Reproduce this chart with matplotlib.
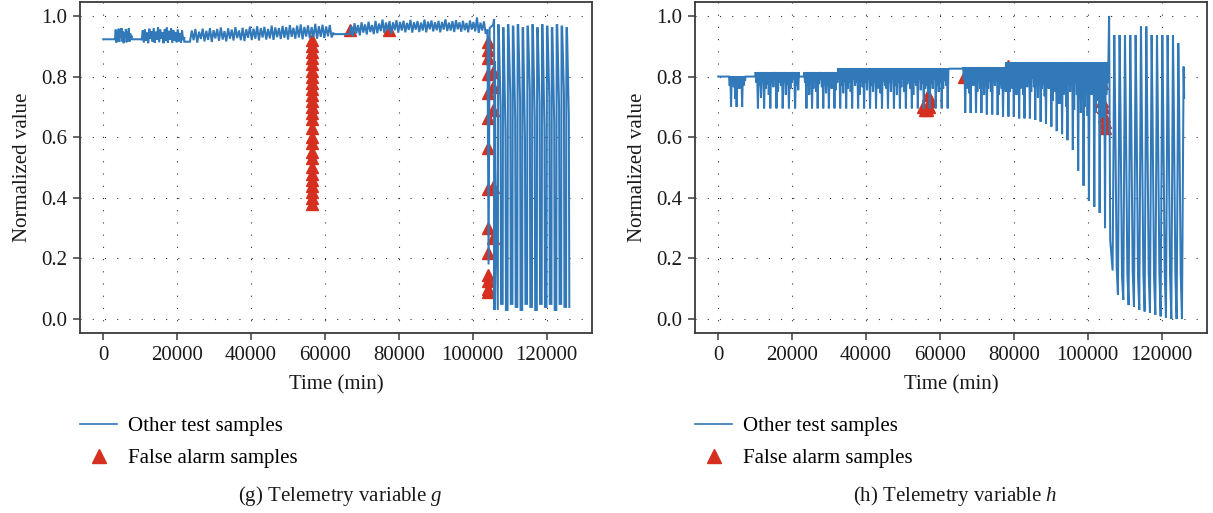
import numpy as np
import matplotlib
matplotlib.use("Agg")
import matplotlib.pyplot as plt
from matplotlib.lines import Line2D
from matplotlib.ticker import FuncFormatter

plt.rcParams['font.family'] = ['Liberation Serif', 'DejaVu Serif']
plt.rcParams['font.size'] = 15
plt.rcParams['mathtext.fontset'] = 'custom'
plt.rcParams['mathtext.rm'] = 'Liberation Serif'
plt.rcParams['mathtext.it'] = 'Liberation Serif:italic'

BLUE = '#3179b9'
RED = '#d5301f'

# ---------------- Telemetry variable g ----------------
# flat stretches: start, end, value
g_flat_t0 = [0, 7680, 21930, 62300]
g_flat_t1 = [3170, 10390, 23470, 66600]
g_flat_v = [0.923, 0.923, 0.915, 0.94]
# noisy stretches (between flats)
g_seg_t0 = [3170, 10390, 23470, 66600]
g_seg_t1 = [7680, 21930, 62300, 104000]
g_seg1 = [0.925, 0.955, 0.912, 0.948, 0.92, 0.958, 0.914, 0.944, 0.93, 0.96, 0.916, 0.95,
          0.91, 0.946, 0.928, 0.957, 0.913, 0.949, 0.922, 0.959, 0.915, 0.943, 0.926, 0.935]
g_seg2 = [0.92, 0.952, 0.912, 0.956, 0.918, 0.945, 0.91, 0.958, 0.924, 0.95,
          0.915, 0.96, 0.911, 0.948, 0.921, 0.962, 0.913, 0.955, 0.925, 0.946,
          0.91, 0.957, 0.917, 0.963, 0.912, 0.951, 0.922, 0.959, 0.911, 0.953,
          0.919, 0.947, 0.913, 0.956, 0.916, 0.944, 0.912, 0.952, 0.92, 0.93]
g_seg3 = [0.915, 0.952, 0.92, 0.957, 0.912, 0.948, 0.924, 0.958, 0.916, 0.951,
          0.921, 0.96, 0.914, 0.953, 0.926, 0.957, 0.918, 0.962, 0.922, 0.95,
          0.916, 0.959, 0.925, 0.955, 0.919, 0.963, 0.927, 0.952, 0.92, 0.961,
          0.917, 0.956, 0.928, 0.965, 0.921, 0.958, 0.925, 0.966, 0.919, 0.96,
          0.929, 0.964, 0.922, 0.957, 0.926, 0.968, 0.921, 0.962, 0.93, 0.96,
          0.924, 0.967, 0.928, 0.963, 0.922, 0.97, 0.931, 0.961, 0.925, 0.968,
          0.929, 0.972, 0.923, 0.964, 0.932, 0.969, 0.926, 0.963, 0.93, 0.974,
          0.925, 0.966, 0.931, 0.971, 0.927, 0.965, 0.933, 0.97, 0.929, 0.945]
g_seg4 = [0.938, 0.968, 0.933, 0.976, 0.942, 0.97, 0.936, 0.979, 0.945, 0.972,
          0.939, 0.981, 0.947, 0.97, 0.94, 0.984, 0.943, 0.975, 0.95, 0.988,
          0.944, 0.978, 0.951, 0.983, 0.941, 0.979, 0.953, 0.986, 0.945, 0.98,
          0.952, 0.984, 0.946, 0.977, 0.954, 0.987, 0.945, 0.979, 0.955, 0.983,
          0.947, 0.978, 0.952, 0.988, 0.946, 0.981, 0.956, 0.985, 0.949, 0.979,
          0.953, 0.984, 0.946, 0.98, 0.955, 0.989, 0.95, 0.978, 0.952, 0.983,
          0.947, 0.986, 0.956, 0.979, 0.948, 0.984, 0.953, 0.977, 0.946, 0.985,
          0.955, 0.98, 0.949, 0.995, 0.944, 0.978, 0.952, 0.982, 0.941, 0.955]
# transition before the oscillation
g_tail_t = [104300, 104600, 105500, 105800, 105900, 106050, 106150]
g_tail_v = [0.18, 0.96, 0.97, 0.99, 0.03, 0.85, 0.50]
# oscillating part
g_osc_t = [106900, 108220, 109540, 110860, 112180, 113500, 114820, 116140,
           117460, 118780, 120100, 121420, 122740, 124060, 125380]
g_osc_top = [0.97, 0.96, 0.97, 0.965, 0.97, 0.96, 0.965, 0.97, 0.96, 0.97,
             0.965, 0.96, 0.97, 0.965, 0.96]
g_osc_mid = [0.70, 0.62, 0.74, 0.66, 0.72, 0.60, 0.75, 0.67, 0.71, 0.63,
             0.73, 0.65, 0.70, 0.74, 0.67]
g_osc_bot = [0.03, 0.05, 0.03, 0.05, 0.04, 0.03, 0.05, 0.04, 0.03, 0.05,
             0.04, 0.05, 0.03, 0.05, 0.04, 0.04]
# false alarm samples
g_fa_t = [56600] * 26 + [104200] * 14 + [105400] * 5 + [66900, 77300]
g_fa_v = [0.38, 0.40, 0.42, 0.44, 0.46, 0.48, 0.50, 0.53, 0.55, 0.58, 0.60, 0.63, 0.66,
          0.68, 0.70, 0.72, 0.74, 0.76, 0.78, 0.80, 0.82, 0.84, 0.86, 0.88, 0.90, 0.92,
          0.915, 0.888, 0.86, 0.807, 0.745, 0.662, 0.563, 0.429, 0.299, 0.217, 0.145,
          0.125, 0.10, 0.09,
          0.816, 0.767, 0.69, 0.437, 0.266,
          0.952, 0.955]

# ---------------- Telemetry variable h ----------------
h_flat_t0 = [0, 7400, 21850, 62300]
h_flat_t1 = [2900, 10100, 23300, 66300]
h_flat_v = [0.80, 0.80, 0.80, 0.826]
# spiky stretches: start, end, band top
h_seg_t0 = [2900, 10100, 23300, 32400, 66300, 78000]
h_seg_t1 = [7400, 21850, 32400, 62300, 78000, 105600]
h_seg_top = [0.80, 0.815, 0.815, 0.828, 0.83, 0.848]
h_segA = [0.77, 0.70, 0.78, 0.765, 0.726, 0.70, 0.775, 0.76, 0.78, 0.70, 0.77, 0.785]
h_segB = [0.78, 0.695, 0.77, 0.73, 0.785, 0.695, 0.76, 0.775, 0.74, 0.695, 0.78, 0.765,
          0.79, 0.695, 0.75, 0.78, 0.77, 0.695, 0.785, 0.74, 0.775, 0.695, 0.76, 0.78,
          0.79, 0.695, 0.77, 0.755]
h_segC1 = [0.78, 0.695, 0.77, 0.74, 0.785, 0.695, 0.76, 0.78, 0.75, 0.695, 0.775, 0.79,
           0.765, 0.695, 0.78, 0.745, 0.77, 0.695, 0.785, 0.76, 0.775, 0.695, 0.755, 0.78]
h_segC2 = [0.79, 0.695, 0.77, 0.745, 0.785, 0.695, 0.76, 0.78, 0.75, 0.695, 0.79, 0.77,
           0.78, 0.695, 0.74, 0.785, 0.765, 0.695, 0.78, 0.755, 0.79, 0.695, 0.77, 0.75,
           0.78, 0.695, 0.76, 0.79, 0.745, 0.695, 0.785, 0.77, 0.76, 0.695, 0.78, 0.75,
           0.79, 0.695, 0.77, 0.74, 0.78, 0.695, 0.765, 0.79, 0.75, 0.695, 0.775, 0.785,
           0.76, 0.695, 0.74, 0.78, 0.77, 0.695, 0.79, 0.755, 0.78, 0.695, 0.76, 0.77,
           0.745, 0.695, 0.785, 0.76, 0.79, 0.695, 0.77, 0.75, 0.78, 0.695, 0.76, 0.785,
           0.77, 0.695]
h_segD1 = [0.79, 0.68, 0.76, 0.78, 0.745, 0.68, 0.79, 0.77, 0.78, 0.68, 0.75, 0.785,
           0.76, 0.68, 0.79, 0.74, 0.775, 0.675, 0.76, 0.785, 0.75, 0.675, 0.78, 0.77,
           0.79, 0.673, 0.74, 0.775, 0.76, 0.668, 0.785, 0.75]
h_segD2 = [0.78, 0.668, 0.75, 0.795, 0.76, 0.668, 0.79, 0.74, 0.785, 0.662, 0.76, 0.775,
           0.74, 0.662, 0.79, 0.765, 0.78, 0.662, 0.75, 0.795, 0.765, 0.657, 0.785, 0.73,
           0.79, 0.651, 0.76, 0.775, 0.735, 0.645, 0.79, 0.76, 0.775, 0.635, 0.72, 0.785,
           0.75, 0.62, 0.78, 0.71, 0.79, 0.61, 0.74, 0.765, 0.70, 0.59, 0.785, 0.75,
           0.77, 0.558, 0.69, 0.78, 0.74, 0.49, 0.79, 0.68, 0.765, 0.44, 0.70, 0.785,
           0.67, 0.39, 0.77, 0.74, 0.785, 0.37, 0.68, 0.76, 0.72, 0.35, 0.79, 0.665,
           0.77, 0.30, 0.74, 0.78]
h_tail_t = [105800, 106100]
h_tail_v = [1.0, 0.26]
h_osc_t = [107200, 108640, 110090, 111530, 112980, 114420, 115870, 117310,
           118760, 120200, 121640, 123090, 124530, 125970]
h_osc_top = [0.937, 0.937, 0.937, 0.937, 0.937, 0.965, 0.965, 0.937, 0.937, 0.937,
             0.937, 0.937, 0.91, 0.833]
h_osc_deep = [0.16, 0.08, 0.063, 0.046, 0.04, 0.03, 0.025, 0.02, 0.014, 0.009,
              0.004, 0.0, 0.0, 0.0]
h_osc_mid = [0.68, 0.68, 0.67, 0.68, 0.68, 0.675, 0.68, 0.68, 0.67, 0.68, 0.68, 0.675, 0.68]
h_osc_low = [0.17, 0.14, 0.15, 0.16, 0.14, 0.15, 0.15, 0.14, 0.15, 0.16, 0.15, 0.14, 0.15]
h_end_v = 0.73
h_fa_t = [55500, 56000, 56500, 57000, 57400, 56800, 56300, 66600, 78300,
          103600, 103800, 104000, 104200, 104400, 104600, 104800]
h_fa_v = [0.70, 0.69, 0.69, 0.70, 0.72, 0.74, 0.80, 0.80, 0.835,
          0.80, 0.78, 0.72, 0.70, 0.67, 0.65, 0.63]

x_ticks = [0, 20000, 40000, 60000, 80000, 100000, 120000]
y_ticks = [0.0, 0.2, 0.4, 0.6, 0.8, 1.0]


def spikes(t0, t1, top, depths):
    xs = np.linspace(t0, t1, 2 * len(depths) + 1)
    ys = [top]
    for d in depths:
        ys += [d, top]
    return list(xs), ys


# assemble g
gx, gy = [], []
g_segs = [g_seg1, g_seg2, g_seg3, g_seg4]
for i in range(4):
    gx += [g_flat_t0[i], g_flat_t1[i]]
    gy += [g_flat_v[i], g_flat_v[i]]
    gx += list(np.linspace(g_seg_t0[i], g_seg_t1[i], len(g_segs[i])))
    gy += list(g_segs[i])
gx += g_tail_t
gy += g_tail_v
for i, t in enumerate(g_osc_t):
    gx += [t - 100, t, t + 150, t + 650, t + 780]
    gy += [g_osc_bot[i], g_osc_top[i], g_osc_top[i], g_osc_mid[i], g_osc_bot[i + 1]]

# assemble h
hx, hy = [], []
h_segs = [h_segA, h_segB, h_segC1, h_segC2, h_segD1, h_segD2]
flat_before = {0: 0, 1: 1, 2: 2, 4: 3}
for i in range(6):
    if i in flat_before:
        k = flat_before[i]
        hx += [h_flat_t0[k], h_flat_t1[k]]
        hy += [h_flat_v[k], h_flat_v[k]]
    xs, ys = spikes(h_seg_t0[i], h_seg_t1[i], h_seg_top[i], h_segs[i])
    hx += xs
    hy += ys
hx += h_tail_t
hy += h_tail_v
for i, t in enumerate(h_osc_t):
    hx += [t - 450, t]
    hy += [h_osc_deep[i], h_osc_top[i]]
    if i < len(h_osc_mid):
        hx += [t + 250, t + 650]
        hy += [h_osc_mid[i], h_osc_low[i]]
hx.append(h_osc_t[-1] + 150)
hy.append(h_end_v)

W, H = 1213, 513
fig = plt.figure(figsize=(W / 100, H / 100), dpi=100)


def rect(l, t, r, b):
    return [l / W, 1 - b / H, (r - l) / W, (b - t) / H]


ax1 = fig.add_axes(rect(80, 2, 592, 333))
ax2 = fig.add_axes(rect(695, 2, 1207, 333))

for ax, (x, y, fx, fy, cap, cx) in zip(
        [ax1, ax2],
        [(gx, gy, g_fa_t, g_fa_v, '(g) Telemetry variable $g$', 340),
         (hx, hy, h_fa_t, h_fa_v, '(h) Telemetry variable $h$', 955)]):
    ax.plot(fx, fy, ls='none', marker='^', ms=8, color=RED, mec=RED, zorder=2)
    ax.plot(x, y, color=BLUE, lw=1.45, zorder=3, solid_joinstyle='miter')
    ax.set_xlim(-6300, 132300)
    ax.set_ylim(-0.046, 1.046)
    ax.set_xticks(x_ticks)
    ax.set_yticks(y_ticks)
    ax.xaxis.set_major_formatter(FuncFormatter(lambda v, p: f'{int(round(v))}'))
    ax.yaxis.set_major_formatter(FuncFormatter(lambda v, p: f'{v:.1f}'))
    ax.grid(True, color='#333333', linestyle=(0, (1, 10)), linewidth=0.8)
    ax.set_axisbelow(True)
    for s in ax.spines.values():
        s.set_color('#3a3a3a')
        s.set_linewidth(1.3)
    ax.tick_params(direction='out', length=5, width=1.1, color='#3a3a3a',
                   labelcolor='#1a1a1a', labelsize=15, pad=4)
    ax.set_xlabel('Time (min)', fontsize=15, color='#1a1a1a', labelpad=8)
    ax.set_ylabel('Normalized value', fontsize=15, color='#1a1a1a', labelpad=7)
    handles = [Line2D([], [], color=BLUE, lw=1.2),
               Line2D([], [], ls='none', marker='^', ms=10, color=RED)]
    ax.legend(handles, ['Other test samples', 'False alarm samples'],
              loc='upper left', bbox_to_anchor=(0.0, -0.253), frameon=False,
              handlelength=1.78, handletextpad=0.53, labelspacing=0.6,
              borderpad=0, borderaxespad=0, fontsize=15)
    fig.text(cx / W, 1 - 496 / H, cap, ha='center', va='center', fontsize=15,
             color='#1a1a1a')

fig.savefig('out.png', dpi=100)
